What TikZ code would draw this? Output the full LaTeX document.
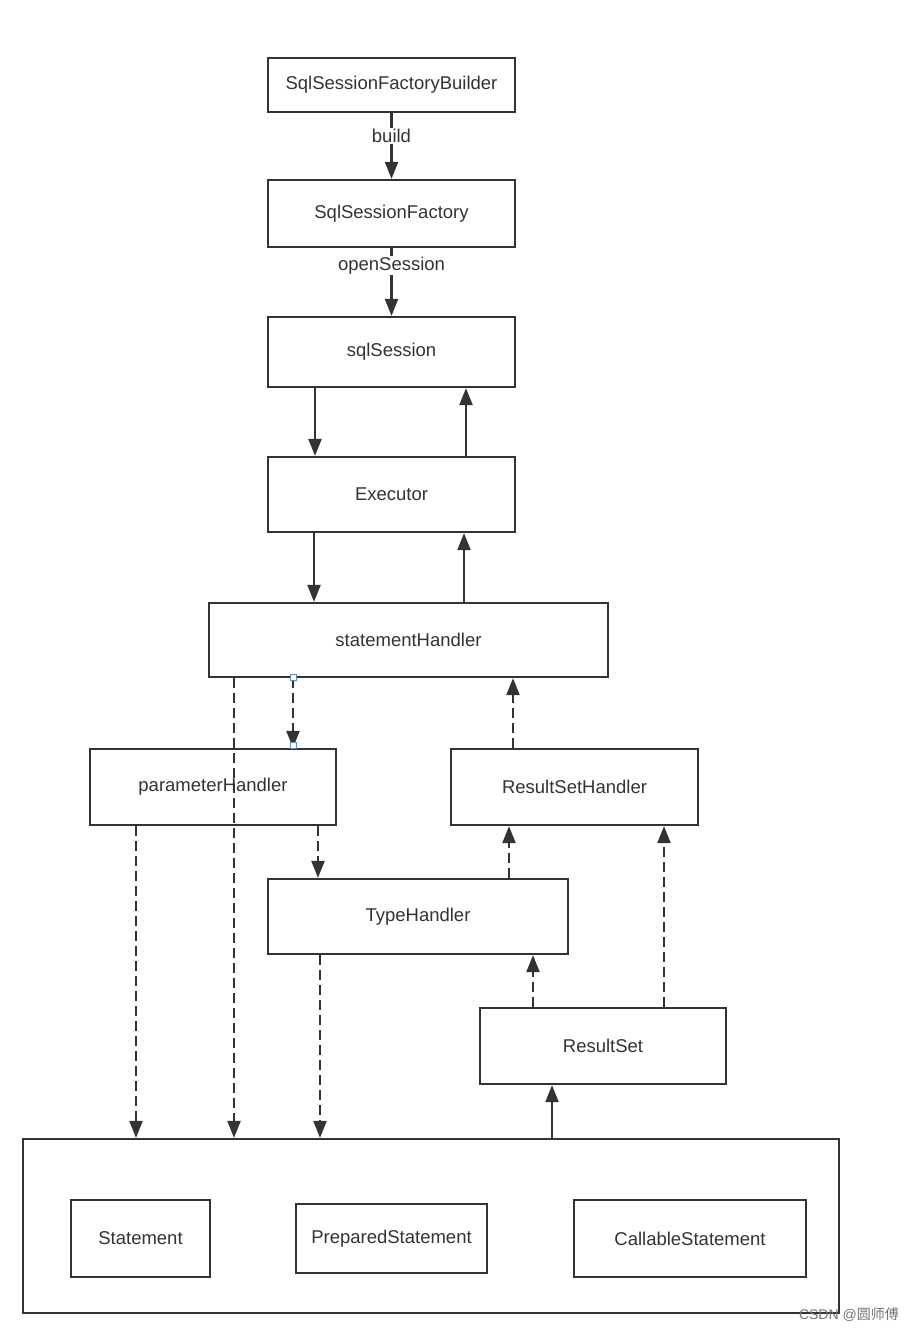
\documentclass[tikz,border=0pt]{standalone}
\usepackage{fontspec}
\setmainfont{Liberation Sans}
\newfontfamily\cjkfont{Noto Sans CJK SC}
\usetikzlibrary{arrows.meta}
\definecolor{ink}{HTML}{333333}
\definecolor{handle}{HTML}{4A90E2}
\begin{document}
\begin{tikzpicture}[x=1pt,y=-1pt,
  box/.style={draw=ink,line width=2.2pt,fill=white,inner sep=0pt,text=ink,font=\fontsize{18.5}{22}\selectfont},
  arr/.style={draw=ink,line width=2.2pt,-{Triangle[length=17pt,width=13pt]}},
  dsh/.style={arr,dash pattern=on 10pt off 5pt},
  lbl/.style={fill=white,inner sep=1pt,text=ink,font=\fontsize{18.5}{22}\selectfont},
  hdl/.style={draw=handle,fill=white,line width=1pt,minimum size=6pt,inner sep=0pt}]
\useasboundingbox (0,0) rectangle (914,1332);
\newcommand{\bx}[6]{\node[box,minimum width={#4-#2},minimum height={#5-#3}] (#1) at ({(#2+#4)/2},{(#3+#5)/2}) {#6};}
\bx{sfb}{268}{58}{515}{112}{SqlSessionFactoryBuilder}
\bx{sf}{268}{180}{515}{247}{SqlSessionFactory}
\bx{ss}{268}{317}{515}{387}{sqlSession}
\bx{ex}{268}{457}{515}{532}{Executor}
\bx{sh}{209}{603}{608}{677}{statementHandler}
\bx{ph}{90}{749}{336}{825}{parameterHandler}
\bx{rsh}{451}{749}{698}{825}{ResultSetHandler}
\bx{th}{268}{879}{568}{954}{TypeHandler}
\bx{rs}{480}{1008}{726}{1084}{ResultSet}
\bx{db}{23}{1139}{839}{1313}{}
\bx{st}{71}{1200}{210}{1277}{Statement}
\bx{pst}{296}{1204}{487}{1273}{PreparedStatement}
\bx{cst}{574}{1200}{806}{1277}{CallableStatement}
% solid arrows
\draw[arr] (sfb.south) -- node[lbl,pos=0.35]{build} (sf.north);
\draw[arr] (sf.south) -- node[lbl,pos=0.26]{openSession} (ss.north);
\draw[arr] (ss.south -| 315,0) -- (ex.north -| 315,0);
\draw[arr] (ex.north -| 466,0) -- (ss.south -| 466,0);
\draw[arr] (ex.south -| 314,0) -- (sh.north -| 314,0);
\draw[arr] (sh.north -| 464,0) -- (ex.south -| 464,0);
\draw[arr] (db.north -| 552,0) -- (rs.south -| 552,0);
% dashed arrows
\draw[dsh] (sh.south -| 293,0) -- (ph.north -| 293,0);
\draw[dsh] (rsh.north -| 513,0) -- (sh.south -| 513,0);
\draw[dsh] (sh.south -| 234,0) -- (db.north -| 234,0);
\draw[dsh] (ph.south -| 136,0) -- (db.north -| 136,0);
\draw[dsh] (ph.south -| 318,0) -- (th.north -| 318,0);
\draw[dsh] (th.north -| 509,0) -- (rsh.south -| 509,0);
\draw[dsh] (th.south -| 320,0) -- (db.north -| 320,0);
\draw[dsh] (rs.north -| 533,0) -- (th.south -| 533,0);
\draw[dsh] (rs.north -| 664,0) -- (rsh.south -| 664,0);
% selection handles
\node[hdl] (h1) at (293,677) {};
\node[hdl] (h2) at (293,745) {};
% watermark
\node[anchor=east,text=black!55,inner sep=0pt,font=\fontsize{14}{16}\selectfont] (wm) at (899,1315) {CSDN @{\cjkfont 圆师傅}};
\end{tikzpicture}
\end{document}
